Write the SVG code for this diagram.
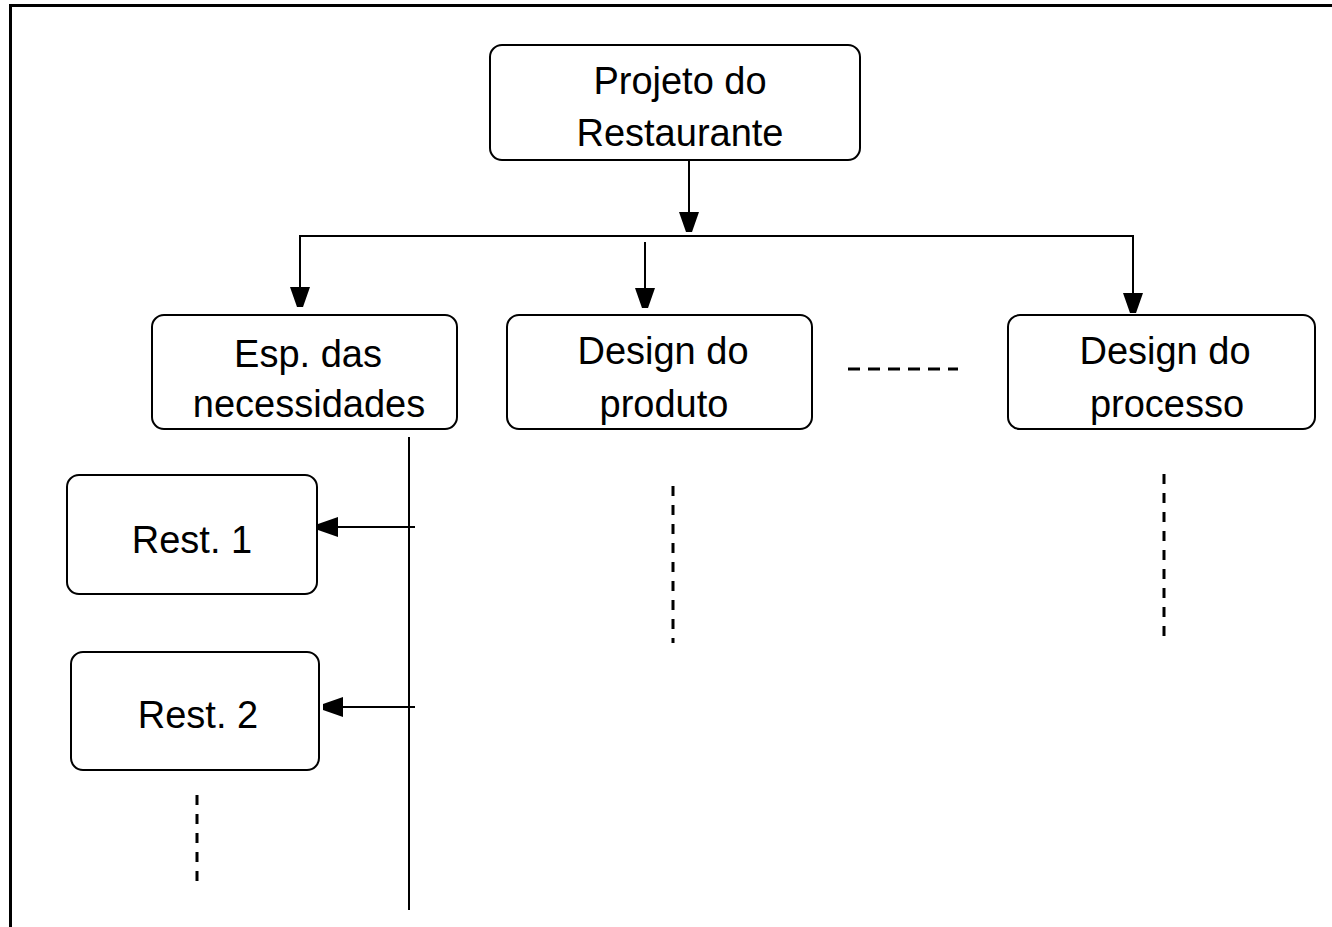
<svg xmlns="http://www.w3.org/2000/svg" width="1332" height="927" viewBox="0 0 1332 927">
<style>
.box{fill:#fff;stroke:#000;stroke-width:2}
.t{font-family:"Liberation Sans",Arial,sans-serif;font-size:38px;fill:#000;text-anchor:middle}
.ln{stroke:#000;stroke-width:2;fill:none}
.dash{stroke:#000;stroke-width:3;fill:none;stroke-dasharray:10 9}
</style>
<defs>
<marker id="ah" markerUnits="userSpaceOnUse" markerWidth="22" markerHeight="22" refX="20" refY="10" orient="auto">
<path d="M0,0 L20,7 L20,13 L0,20 z" fill="#000"/>
</marker>
</defs>
<rect width="1332" height="927" fill="#fff"/>
<g id="frame">
<line x1="9" y1="5.5" x2="1332" y2="5.5" stroke="#000" stroke-width="3"/>
<line x1="10.5" y1="4" x2="10.5" y2="927" stroke="#000" stroke-width="3"/>
</g>
<g id="connectors">
<line class="ln" x1="689" y1="160" x2="689" y2="232" marker-end="url(#ah)"/>
<line class="ln" x1="299" y1="236" x2="1134" y2="236"/>
<line class="ln" x1="300" y1="236" x2="300" y2="307" marker-end="url(#ah)"/>
<line class="ln" x1="645" y1="242" x2="645" y2="308" marker-end="url(#ah)"/>
<line class="ln" x1="1133" y1="236" x2="1133" y2="313" marker-end="url(#ah)"/>
<line class="ln" x1="409" y1="437" x2="409" y2="910"/>
<line class="ln" x1="415" y1="527" x2="318" y2="527" marker-end="url(#ah)"/>
<line class="ln" x1="415" y1="707" x2="323" y2="707" marker-end="url(#ah)"/>
<line class="dash" x1="848" y1="369" x2="958" y2="369" style="stroke-dasharray:12 8"/>
<line class="dash" x1="673" y1="486" x2="673" y2="643"/>
<line class="dash" x1="1164" y1="474" x2="1164" y2="636"/>
<line class="dash" x1="197" y1="795" x2="197" y2="889"/>
</g>
<g id="n-projeto">
<rect class="box" x="490" y="45" width="370" height="115" rx="12"/>
<text class="t" x="680" y="94">Projeto do</text>
<text class="t" x="680" y="146">Restaurante</text>
</g>
<g id="n-esp">
<rect class="box" x="152" y="315" width="305" height="114" rx="12"/>
<text class="t" x="308" y="367">Esp. das</text>
<text class="t" x="309" y="417">necessidades</text>
</g>
<g id="n-produto">
<rect class="box" x="507" y="315" width="305" height="114" rx="12"/>
<text class="t" x="663" y="364">Design do</text>
<text class="t" x="664" y="417">produto</text>
</g>
<g id="n-processo">
<rect class="box" x="1008" y="315" width="307" height="114" rx="12"/>
<text class="t" x="1165" y="364">Design do</text>
<text class="t" x="1167" y="417">processo</text>
</g>
<g id="n-rest1">
<rect class="box" x="67" y="475" width="250" height="119" rx="12"/>
<text class="t" x="192" y="553">Rest. 1</text>
</g>
<g id="n-rest2">
<rect class="box" x="71" y="652" width="248" height="118" rx="12"/>
<text class="t" x="198" y="728">Rest. 2</text>
</g>
</svg>
